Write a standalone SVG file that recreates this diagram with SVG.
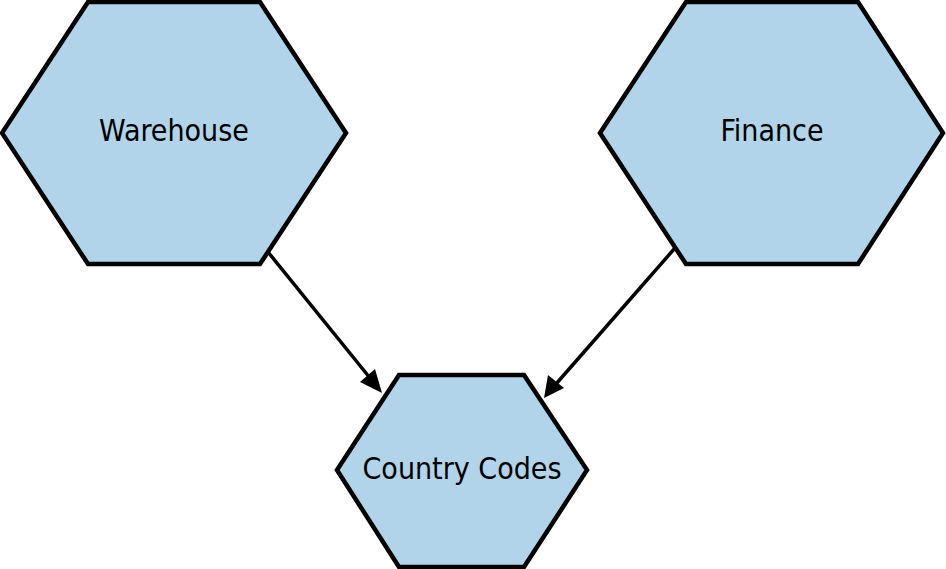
<svg xmlns="http://www.w3.org/2000/svg" width="946" height="569" viewBox="0 0 946 569">
<defs>
<style>
.hex{fill:#b1d4ea;stroke:#000;stroke-width:4.5;stroke-linejoin:miter}
.lbl{font-family:"DejaVu Sans","Liberation Sans",sans-serif;font-stretch:condensed;font-size:30px;fill:#000;text-anchor:middle}
.edge{stroke:#000;stroke-width:3.5;fill:none}
</style>
</defs>
<rect width="946" height="569" fill="#fff"/>
<g id="warehouse">
<polygon class="hex" points="2,133 88,2 260,2 346,133 260,264 88,264"/>
<text class="lbl" x="174" y="141">Warehouse</text>
</g>
<g id="finance">
<polygon class="hex" points="600,133 686,2 858,2 943,133 858,264 686,264"/>
<text class="lbl" x="772" y="141">Finance</text>
</g>
<g id="country-codes">
<polygon class="hex" points="337,470 399,375 524,375 587,470 524,567 399,567"/>
<text class="lbl" x="462" y="479">Country Codes</text>
</g>
<g id="connectors">
<line class="edge" x1="268" y1="252" x2="370" y2="378"/>
<path d="M382,393 L360,382 L375,369 z" fill="#000"/>
<line class="edge" x1="675" y1="248" x2="556" y2="384"/>
<path d="M544,398 L548,375 L564,388 z" fill="#000"/>
</g>
</svg>
